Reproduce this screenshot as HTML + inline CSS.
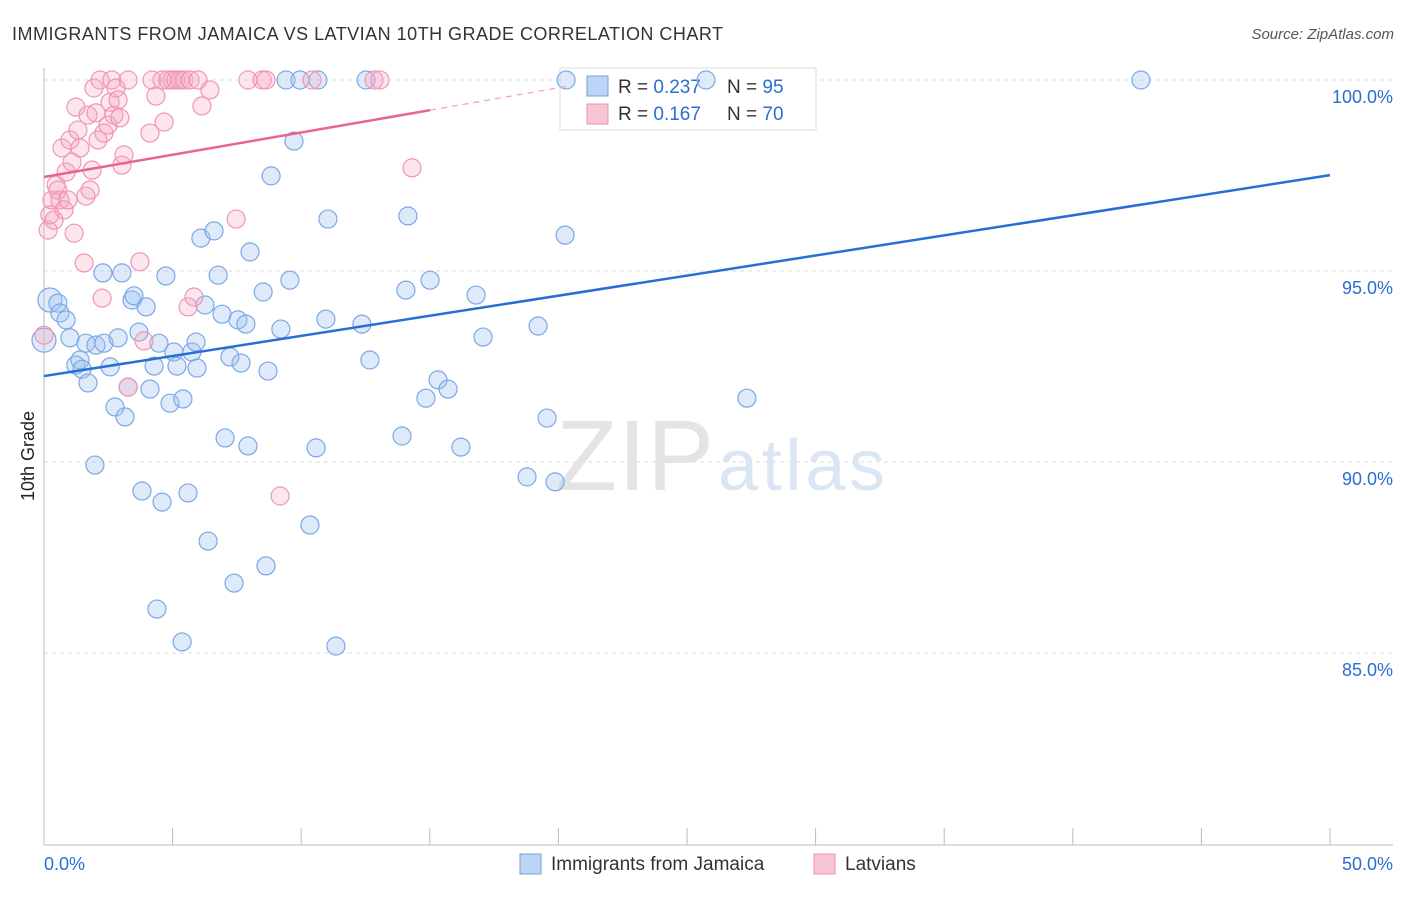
<!DOCTYPE html>
<html><head><meta charset="utf-8"><style>
body{margin:0;background:#fff;font-family:"Liberation Sans",sans-serif;}
svg text{font-family:"Liberation Sans",sans-serif;}
</style></head><body>
<svg id="c" width="1406" height="892">
<text x="12" y="40" font-size="18" fill="#333" textLength="711">IMMIGRANTS FROM JAMAICA VS LATVIAN 10TH GRADE CORRELATION CHART</text>
<text x="1394" y="39" font-size="15" fill="#555" font-style="italic" text-anchor="end">Source: ZipAtlas.com</text>
<text x="34" y="456" font-size="18" fill="#222" transform="rotate(-90 34 456)" text-anchor="middle">10th Grade</text>
<g id="grid"></g>
<text x="714" y="490" font-size="100" fill="#e4e4e4" font-family="Liberation Serif" text-anchor="end" textLength="158">ZIP</text>
<text x="718" y="490" font-size="72" fill="#dbe6f5" textLength="167">atlas</text>
<g>
<rect x="560" y="68" width="256" height="62" fill="#fff" stroke="#ddd"/>
<rect x="587" y="76" width="21" height="20" fill="#bcd5f5" stroke="#6fa0e0"/>
<rect x="587" y="104" width="21" height="20" fill="#f8c5d5" stroke="#ee8fae"/>
<text x="618" y="93" font-size="19" fill="#333">R = <tspan fill="#2a6dd4">0.237</tspan></text>
<text x="727" y="93" font-size="19" fill="#333">N = <tspan fill="#2a6dd4">95</tspan></text>
<text x="618" y="120" font-size="19" fill="#333">R = <tspan fill="#2a6dd4"> 0.167</tspan></text>
<text x="727" y="120" font-size="19" fill="#333">N = <tspan fill="#2a6dd4">70</tspan></text>
</g>
<g id="pts"></g>
<g id="lines"></g>
<g>
<rect x="520" y="854" width="21" height="20" fill="#bcd5f5" stroke="#6fa0e0"/>
<text x="551" y="870" font-size="19" fill="#333">Immigrants from Jamaica</text>
<rect x="814" y="854" width="21" height="20" fill="#f8c5d5" stroke="#ee8fae"/>
<text x="845" y="870" font-size="19" fill="#333">Latvians</text>
</g>
</svg>
<script>
const yTicks=[100,95,90,85];
const yTickLabels=["100.0%","95.0%","90.0%","85.0%"];
const xTicks=[0,5,10,15,20,25,30,35,40,45,50];
const xLabels=["0.0%","50.0%"];
const blueX=[0,.23,.54,.62,.86,1.01,1.24,1.40,1.48,1.71,1.63,2.02,2.33,1.98,2.29,2.57,2.76,2.88,3.03,3.15,3.27,3.42,3.50,3.69,3.81,3.97,4.12,4.28,4.39,4.47,4.59,4.74,4.90,5.05,5.17,5.37,5.40,5.60,5.75,5.91,5.95,6.10,6.26,6.38,6.61,6.77,6.92,7.04,7.23,7.39,7.54,7.66,7.85,7.93,8.01,8.52,8.63,8.71,8.83,9.21,9.41,9.56,9.72,9.95,10.34,10.58,10.65,10.96,11.04,11.35,12.36,12.52,12.67,13.92,14.07,14.15,14.85,15.01,15.32,15.71,16.21,16.80,17.07,18.78,19.21,19.56,19.87,20.26,20.30,25.74,27.33,42.65];
const blueY=[93.19,94.24,94.16,93.90,93.72,93.25,92.54,92.67,92.43,92.07,93.11,93.06,93.11,89.92,94.95,92.49,91.44,93.25,94.95,91.18,91.96,94.24,94.35,93.40,89.24,94.06,91.91,92.51,86.15,93.11,88.95,94.87,91.54,92.88,92.51,85.29,91.65,89.19,92.88,93.14,92.46,95.86,94.11,87.93,96.05,94.89,93.87,90.63,92.75,86.83,93.72,92.59,93.61,90.42,95.50,94.45,87.28,92.38,97.49,93.48,100,94.76,98.40,100,88.35,90.37,100,93.74,96.36,85.18,93.61,100,92.67,90.68,94.50,96.44,91.67,94.76,92.15,91.91,90.39,94.37,93.27,89.61,93.56,91.15,89.48,95.94,100,100,91.67,100];
const pinkX=[0,.16,.23,.31,.39,.47,.54,.62,.70,.78,.86,.93,1.01,1.09,1.17,1.24,1.32,1.40,1.56,1.63,1.71,1.79,1.87,1.94,2.02,2.10,2.18,2.26,2.33,2.49,2.57,2.64,2.72,2.80,2.88,2.95,3.03,3.11,3.27,3.27,3.73,3.89,4.12,4.20,4.35,4.59,4.67,4.82,4.98,5.13,5.29,5.44,5.60,5.68,5.83,5.99,6.14,6.45,7.47,7.93,8.48,8.63,9.18,10.42,12.83,13.06,14.31];
const pinkY=[93.32,96.07,96.47,96.86,96.33,97.25,97.12,96.86,98.22,96.60,97.59,96.86,98.43,97.85,95.99,99.29,98.69,98.22,95.21,96.96,99.08,97.12,97.64,99.79,99.14,98.43,100,94.29,98.61,98.82,99.42,100,99.08,99.79,99.48,99.01,97.77,98.04,100,91.96,95.24,93.17,98.61,100,99.58,100,98.90,100,100,100,100,100,94.06,100,94.32,100,99.32,99.74,96.36,100,100,100,89.11,100,100,100,97.70];
const blueTrend=[92.25,97.51];
const pinkTrend=[97.46,99.21,99.83];
const pinkTrendX=[0,15.01,20.3];
const NS="http://www.w3.org/2000/svg";
const sx=v=>44+v*25.72, sy=v=>80+(100-v)*38.2;
function mk(t,a,p){const e=document.createElementNS(NS,t);for(const k in a)e.setAttribute(k,a[k]);document.getElementById(p).appendChild(e);return e;}
yTicks.forEach((t,i)=>{
 const l=mk('line',{x1:44,x2:1393,y1:sy(t),y2:sy(t),stroke:'#ddd','stroke-dasharray':'4,4'},'grid');
 
 
 const tx=mk('text',{x:1393,y:sy(t)+23,'font-size':18,fill:'#2a6dd4','text-anchor':'end'},'grid');tx.textContent=yTickLabels[i];
 
 
});
const ax=mk('line',{x1:44,x2:44,y1:68,y2:845,stroke:'#bbb'},'grid');


const bx=mk('line',{x1:44,x2:1393,y1:845,y2:845,stroke:'#bbb'},'grid');


xTicks.forEach(t=>{const l=mk('line',{x1:sx(t),x2:sx(t),y1:828,y2:845,stroke:'#bbb'},'grid');
 
 });
[[0,'start',44],[50,'end',1393]].forEach((d,i)=>{const tx=mk('text',{x:d[2],y:870,'font-size':18,fill:'#2a6dd4','text-anchor':d[1]},'grid');tx.textContent=xLabels[i];
 
 });
blueX.forEach((x,i)=>{const c=mk('circle',{cx:sx(x),cy:sy(blueY[i]),r:i<2?12:9,fill:'rgba(160,195,240,0.35)',stroke:'#7aa8e6','stroke-width':1.2},'pts');
 
 });
pinkX.forEach((x,i)=>{const c=mk('circle',{cx:sx(x),cy:sy(pinkY[i]),r:9,fill:'rgba(245,170,195,0.3)',stroke:'#f095b5','stroke-width':1.2},'pts');
 
 });
const bl=mk('line',{x1:sx(0),y1:sy(blueTrend[0]),x2:sx(50),y2:sy(blueTrend[1]),stroke:'#2a6dd4','stroke-width':2.5},'lines');


const pl=mk('line',{x1:sx(pinkTrendX[0]),y1:sy(pinkTrend[0]),x2:sx(pinkTrendX[1]),y2:sy(pinkTrend[1]),stroke:'#e8648f','stroke-width':2.5},'lines');


const pd=mk('line',{x1:sx(pinkTrendX[1]),y1:sy(pinkTrend[1]),x2:sx(pinkTrendX[2]),y2:sy(pinkTrend[2]),stroke:'#eea0ba','stroke-width':1.2,'stroke-dasharray':'6,5'},'lines');


</script>
</body></html>
